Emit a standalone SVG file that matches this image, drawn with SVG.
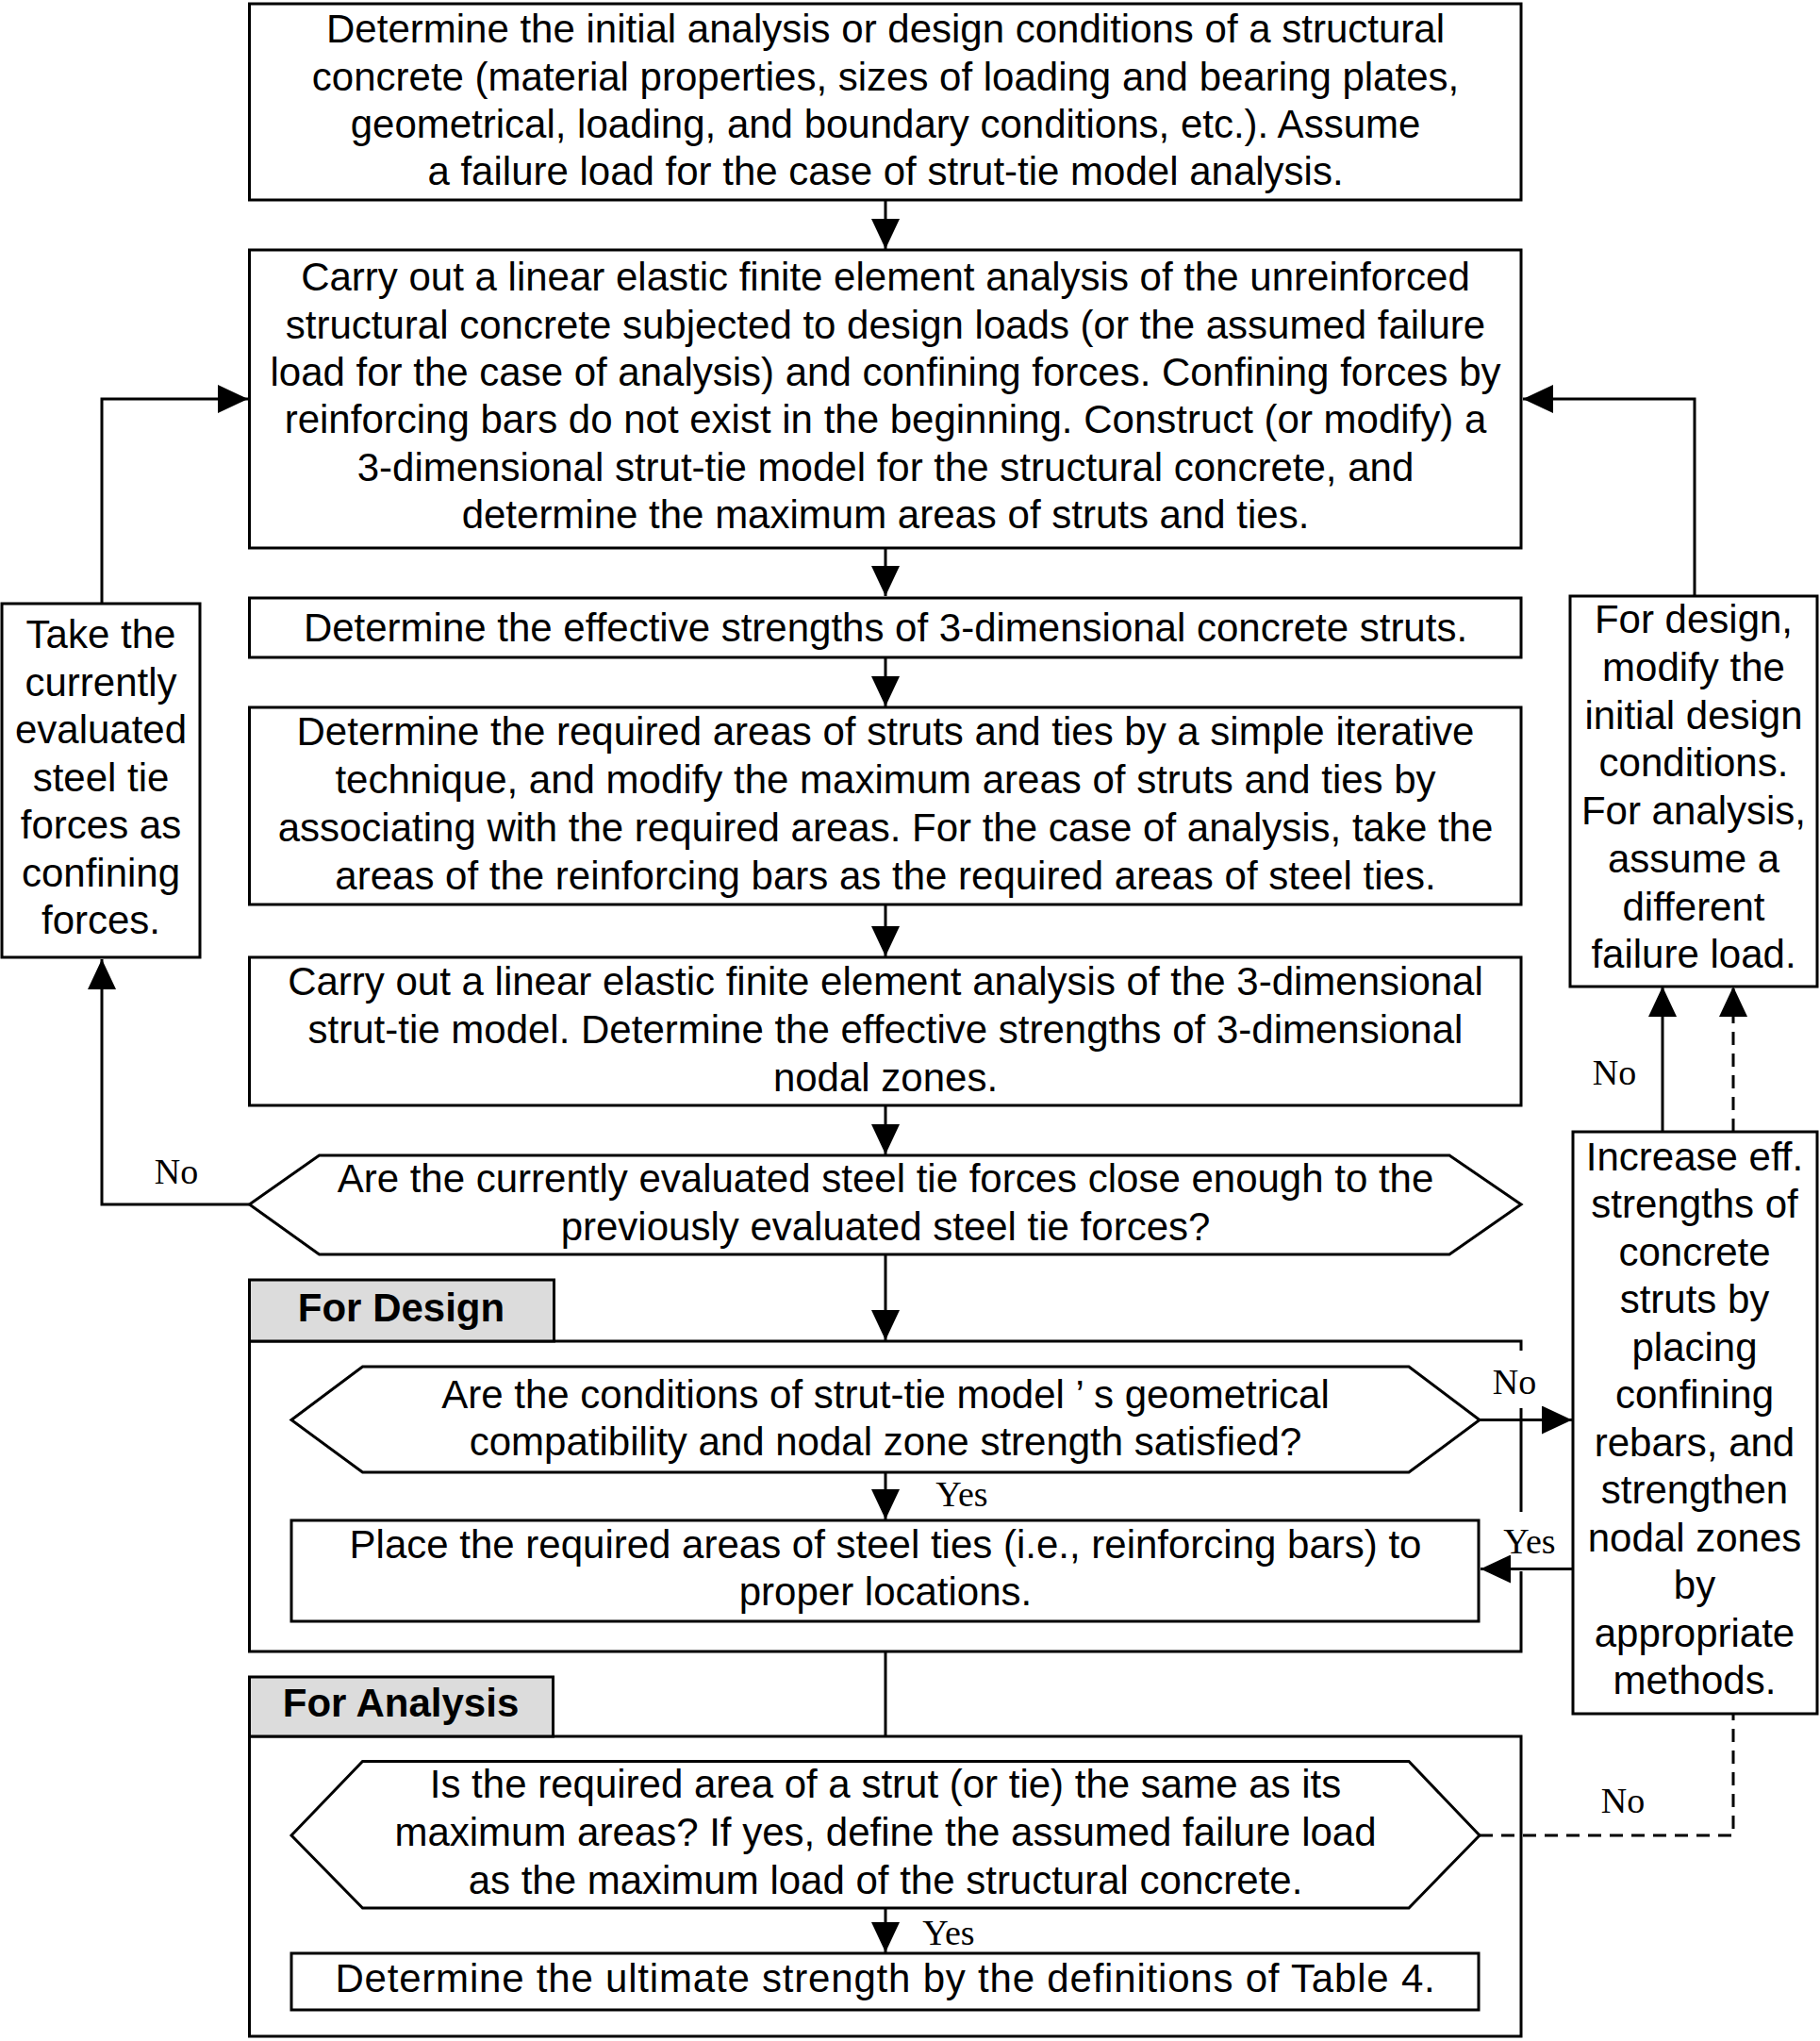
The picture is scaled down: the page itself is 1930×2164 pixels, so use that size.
<svg xmlns="http://www.w3.org/2000/svg" width="1930" height="2164" viewBox="0 0 1930 2164">
<style>
.b{fill:#fff;stroke:#000;stroke-width:3}
.f{fill:none;stroke:#000;stroke-width:3}
.t{font-family:"Liberation Sans",Arial,sans-serif;font-size:42px;text-anchor:middle;fill:#000}
.tab{fill:#dcdcdc;stroke:#000;stroke-width:3}
.tb{font-family:"Liberation Sans",Arial,sans-serif;font-size:42px;font-weight:bold;text-anchor:middle}
.l{font-family:"Liberation Serif","Times New Roman",serif;font-size:38px;text-anchor:middle}
.c{fill:none;stroke:#000;stroke-width:3}
.d{fill:none;stroke:#000;stroke-width:3;stroke-dasharray:14 9}
</style>
<defs>
<marker id="a" viewBox="0 0 32 30" refX="32" refY="15" markerWidth="32" markerHeight="30" markerUnits="userSpaceOnUse" orient="auto">
<path d="M0,0 L32,15 L0,30 Z" fill="#000"/>
</marker>
</defs>
<rect width="1930" height="2164" fill="#fff"/>

<g id="gDesign">
<polyline class="c" points="1613,1432 1613,1422 264.5,1422 264.5,1751 1613,1751 1613,1666"/>
<line class="c" x1="1613" y1="1493" x2="1613" y2="1603"/>
<rect class="tab" x="264.5" y="1357" width="323" height="65"/>
<text class="tb" x="425.5" y="1401">For Design</text>
</g>

<g id="gAnalysis">
<rect class="f" x="264.5" y="1841" width="1348.5" height="318"/>
<rect class="tab" x="264.5" y="1778" width="322" height="63"/>
<text class="tb" x="425" y="1820">For Analysis</text>
</g>

<g id="connectors">
<line class="c" x1="939" y1="212" x2="939" y2="264" marker-end="url(#a)"/>
<line class="c" x1="939" y1="581" x2="939" y2="632" marker-end="url(#a)"/>
<line class="c" x1="939" y1="697" x2="939" y2="749" marker-end="url(#a)"/>
<line class="c" x1="939" y1="959" x2="939" y2="1014" marker-end="url(#a)"/>
<line class="c" x1="939" y1="1172" x2="939" y2="1224" marker-end="url(#a)"/>
<line class="c" x1="939" y1="1330" x2="939" y2="1421" marker-end="url(#a)"/>
<line class="c" x1="939" y1="1561" x2="939" y2="1611" marker-end="url(#a)"/>
<line class="c" x1="939" y1="1751" x2="939" y2="1841"/>
<line class="c" x1="939" y1="2023" x2="939" y2="2070" marker-end="url(#a)"/>
<polyline class="c" points="108,640 108,423 263,423" marker-end="url(#a)"/>
<polyline class="c" points="1797,632 1797,423 1615,423" marker-end="url(#a)"/>
<polyline class="c" points="264,1277 108,1277 108,1017" marker-end="url(#a)"/>
<line class="c" x1="1763" y1="1200" x2="1763" y2="1046" marker-end="url(#a)"/>
<line class="d" x1="1838" y1="1200" x2="1838" y2="1046" marker-end="url(#a)"/>
<polyline class="d" points="1569,1946 1838,1946 1838,1817"/>
<line class="c" x1="1569" y1="1505.5" x2="1667" y2="1505.5" marker-end="url(#a)"/>
<line class="c" x1="1668" y1="1663.5" x2="1570" y2="1663.5" marker-end="url(#a)"/>
<text class="l" x="187" y="1255">No</text>
<text class="l" x="1712" y="1150">No</text>
<text class="l" x="1606" y="1478">No</text>
<text class="l" x="1622" y="1647">Yes</text>
<text class="l" x="1020" y="1597">Yes</text>
<text class="l" x="1721" y="1922">No</text>
<text class="l" x="1006" y="2062">Yes</text>
</g>

<g id="n1">
<rect class="b" x="264.5" y="4" width="1348.5" height="208"/>
<text class="t" x="939" y="45">Determine the initial analysis or design conditions of a structural</text>
<text class="t" x="939" y="95.5">concrete (material properties, sizes of loading and bearing plates,</text>
<text class="t" x="939" y="146">geometrical, loading, and boundary conditions, etc.). Assume</text>
<text class="t" x="939" y="196">a failure load for the case of strut-tie model analysis.</text>
</g>

<g id="n2">
<rect class="b" x="264.5" y="265" width="1348.5" height="316"/>
<text class="t" x="939" y="308">Carry out a linear elastic finite element analysis of the unreinforced</text>
<text class="t" x="939" y="358.5">structural concrete subjected to design loads (or the assumed failure</text>
<text class="t" x="939" y="409">load for the case of analysis) and confining forces. Confining forces by</text>
<text class="t" x="939" y="459">reinforcing bars do not exist in the beginning. Construct (or modify) a</text>
<text class="t" x="939" y="509.5">3-dimensional strut-tie model for the structural concrete, and</text>
<text class="t" x="939" y="560">determine the maximum areas of struts and ties.</text>
</g>

<g id="n3">
<rect class="b" x="264.5" y="634" width="1348.5" height="63"/>
<text class="t" x="939" y="679.5">Determine the effective strengths of 3-dimensional concrete struts.</text>
</g>

<g id="n4">
<rect class="b" x="264.5" y="750" width="1348.5" height="209"/>
<text class="t" x="939" y="790">Determine the required areas of struts and ties by a simple iterative</text>
<text class="t" x="939" y="841">technique, and modify the maximum areas of struts and ties by</text>
<text class="t" x="939" y="892">associating with the required areas. For the case of analysis, take the</text>
<text class="t" x="939" y="943">areas of the reinforcing bars as the required areas of steel ties.</text>
</g>

<g id="n5">
<rect class="b" x="264.5" y="1015" width="1348.5" height="157"/>
<text class="t" x="939" y="1055">Carry out a linear elastic finite element analysis of the 3-dimensional</text>
<text class="t" x="939" y="1106">strut-tie model. Determine the effective strengths of 3-dimensional</text>
<text class="t" x="939" y="1157">nodal zones.</text>
</g>

<g id="n6">
<polygon class="b" points="264.5,1277 338.5,1225 1537,1225 1613,1277 1537,1330 338.5,1330"/>
<text class="t" x="939" y="1264">Are the currently evaluated steel tie forces close enough to the</text>
<text class="t" x="939" y="1315">previously evaluated steel tie forces?</text>
</g>

<g id="nLeft">
<rect class="b" x="2" y="640" width="210" height="375"/>
<text class="t" x="107" y="687">Take the</text>
<text class="t" x="107" y="737.5">currently</text>
<text class="t" x="107" y="788">evaluated</text>
<text class="t" x="107" y="838.5">steel tie</text>
<text class="t" x="107" y="889">forces as</text>
<text class="t" x="107" y="939.5">confining</text>
<text class="t" x="107" y="990">forces.</text>
</g>

<g id="nRight">
<rect class="b" x="1665" y="632" width="262" height="414"/>
<text class="t" x="1796" y="671">For design,</text>
<text class="t" x="1796" y="722">modify the</text>
<text class="t" x="1796" y="773">initial design</text>
<text class="t" x="1796" y="823">conditions.</text>
<text class="t" x="1796" y="874">For analysis,</text>
<text class="t" x="1796" y="925">assume a</text>
<text class="t" x="1796" y="976">different</text>
<text class="t" x="1796" y="1026">failure load.</text>
</g>

<g id="nIncrease">
<rect class="b" x="1668" y="1200" width="259" height="617"/>
<text class="t" x="1797" y="1240.5">Increase eff.</text>
<text class="t" x="1797" y="1291">strengths of</text>
<text class="t" x="1797" y="1341.5">concrete</text>
<text class="t" x="1797" y="1392">struts by</text>
<text class="t" x="1797" y="1442.5">placing</text>
<text class="t" x="1797" y="1493">confining</text>
<text class="t" x="1797" y="1543.5">rebars, and</text>
<text class="t" x="1797" y="1594">strengthen</text>
<text class="t" x="1797" y="1644.5">nodal zones</text>
<text class="t" x="1797" y="1695">by</text>
<text class="t" x="1797" y="1745.5">appropriate</text>
<text class="t" x="1797" y="1796">methods.</text>
</g>

<g id="n7">
<polygon class="b" points="309,1505.5 384.5,1449 1494,1449 1569,1505.5 1494,1561 384.5,1561"/>
<text class="t" x="939" y="1493">Are the conditions of strut-tie model ’ s geometrical</text>
<text class="t" x="939" y="1543">compatibility and nodal zone strength satisfied?</text>
</g>

<g id="n8">
<rect class="b" x="309" y="1612" width="1259" height="107"/>
<text class="t" x="939" y="1652">Place the required areas of steel ties (i.e., reinforcing bars) to</text>
<text class="t" x="939" y="1702">proper locations.</text>
</g>

<g id="n9">
<polygon class="b" points="309,1946 384.5,1867.5 1494,1867.5 1569,1946 1494,2023 384.5,2023"/>
<text class="t" x="939" y="1906">Is the required area of a strut (or tie) the same as its</text>
<text class="t" x="939" y="1957">maximum areas? If yes, define the assumed failure load</text>
<text class="t" x="939" y="2008">as the maximum load of the structural concrete.</text>
</g>

<g id="n10">
<rect class="b" x="309" y="2071" width="1259" height="60"/>
<text class="t" x="939" y="2112" style="letter-spacing:0.8px">Determine the ultimate strength by the definitions of Table 4.</text>
</g>
</svg>
